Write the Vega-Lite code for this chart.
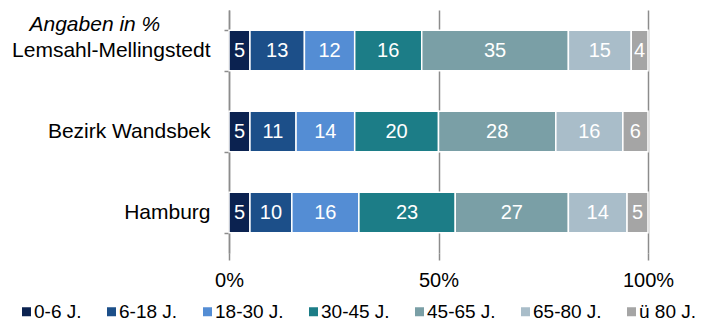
{
  "$schema": "https://vega.github.io/schema/vega-lite/v6.json",
  "width": 419,
  "height": 243,
  "autosize": {"type": "none"},
  "padding": {"left": 229, "top": 10, "right": 54, "bottom": 68},
  "background": "white",
  "config": {"font": "Liberation Sans", "view": {"stroke": null}},
  "data": {
    "values": [
      {"region": "Lemsahl-Mellingstedt", "group": "0-6 J.", "order": 1, "value": 5},
      {"region": "Lemsahl-Mellingstedt", "group": "6-18 J.", "order": 2, "value": 13},
      {"region": "Lemsahl-Mellingstedt", "group": "18-30 J.", "order": 3, "value": 12},
      {"region": "Lemsahl-Mellingstedt", "group": "30-45 J.", "order": 4, "value": 16},
      {"region": "Lemsahl-Mellingstedt", "group": "45-65 J.", "order": 5, "value": 35},
      {"region": "Lemsahl-Mellingstedt", "group": "65-80 J.", "order": 6, "value": 15},
      {"region": "Lemsahl-Mellingstedt", "group": "ü 80 J.", "order": 7, "value": 4},
      {"region": "Bezirk Wandsbek", "group": "0-6 J.", "order": 1, "value": 5},
      {"region": "Bezirk Wandsbek", "group": "6-18 J.", "order": 2, "value": 11},
      {"region": "Bezirk Wandsbek", "group": "18-30 J.", "order": 3, "value": 14},
      {"region": "Bezirk Wandsbek", "group": "30-45 J.", "order": 4, "value": 20},
      {"region": "Bezirk Wandsbek", "group": "45-65 J.", "order": 5, "value": 28},
      {"region": "Bezirk Wandsbek", "group": "65-80 J.", "order": 6, "value": 16},
      {"region": "Bezirk Wandsbek", "group": "ü 80 J.", "order": 7, "value": 6},
      {"region": "Hamburg", "group": "0-6 J.", "order": 1, "value": 5},
      {"region": "Hamburg", "group": "6-18 J.", "order": 2, "value": 10},
      {"region": "Hamburg", "group": "18-30 J.", "order": 3, "value": 16},
      {"region": "Hamburg", "group": "30-45 J.", "order": 4, "value": 23},
      {"region": "Hamburg", "group": "45-65 J.", "order": 5, "value": 27},
      {"region": "Hamburg", "group": "65-80 J.", "order": 6, "value": 14},
      {"region": "Hamburg", "group": "ü 80 J.", "order": 7, "value": 5}
    ]
  },
  "transform": [
    {"stack": "value", "groupby": ["region"], "sort": [{"field": "order"}], "as": ["v0", "v1"]},
    {"calculate": "(datum.v0 + datum.v1) / 2", "as": "mid"}
  ],
  "encoding": {
    "y": {
      "field": "region",
      "type": "nominal",
      "sort": ["Lemsahl-Mellingstedt", "Bezirk Wandsbek", "Hamburg"],
      "scale": {"paddingInner": 0.5, "paddingOuter": 0.25},
      "axis": {
        "tickBand": "extent",
        "domainColor": "#8c8c8c",
        "domainWidth": 1.5,
        "tickColor": "#8c8c8c",
        "tickWidth": 1.5,
        "tickSize": 5,
        "labelFontSize": 21,
        "labelColor": "#000000",
        "labelPadding": 14,
        "labelLimit": 400,
        "title": "Angaben in %",
        "titleAngle": 0,
        "titleFontStyle": "italic",
        "titleFontWeight": "normal",
        "titleFontSize": 21,
        "titleColor": "#000000",
        "titleAlign": "left",
        "titleBaseline": "alphabetic",
        "titleX": -200,
        "titleY": 20
      }
    }
  },
  "layer": [
    {
      "mark": {"type": "bar", "stroke": "white", "strokeWidth": 1.5},
      "encoding": {
        "x": {
          "field": "v0",
          "type": "quantitative",
          "scale": {"domain": [0, 100], "nice": false},
          "axis": {
            "values": [0, 50, 100],
            "labelExpr": "datum.value + '%'",
            "labelFlush": false,
            "grid": true,
            "gridColor": "#8c8c8c",
            "gridWidth": 1.5,
            "domain": false,
            "ticks": true,
            "tickColor": "#8c8c8c",
            "tickWidth": 1.5,
            "tickSize": 7,
            "labelPadding": 10,
            "labelFontSize": 20,
            "labelColor": "#000000",
            "title": null
          }
        },
        "x2": {"field": "v1"},
        "color": {
          "field": "group",
          "type": "nominal",
          "sort": ["0-6 J.", "6-18 J.", "18-30 J.", "30-45 J.", "45-65 J.", "65-80 J.", "ü 80 J."],
          "scale": {
            "domain": ["0-6 J.", "6-18 J.", "18-30 J.", "30-45 J.", "45-65 J.", "65-80 J.", "ü 80 J."],
            "range": ["#0b2250", "#1c4f89", "#548dd4", "#1c7d87", "#7a9fa6", "#a9bdc9", "#a5a5a5"]
          },
          "legend": {
            "orient": "none",
            "legendX": -212,
            "legendY": 292,
            "direction": "horizontal",
            "title": null,
            "symbolType": "square",
            "symbolSize": 81,
            "symbolStrokeWidth": 0,
            "labelFontSize": 19,
            "labelColor": "#000000",
            "labelOffset": -2,
            "columnPadding": 20
          }
        },
        "order": {"field": "order"}
      }
    },
    {
      "mark": {"type": "text", "color": "white", "fontSize": 20, "baseline": "middle", "align": "center"},
      "encoding": {
        "x": {"field": "mid", "type": "quantitative"},
        "text": {"field": "value", "type": "quantitative"}
      }
    }
  ]
}
